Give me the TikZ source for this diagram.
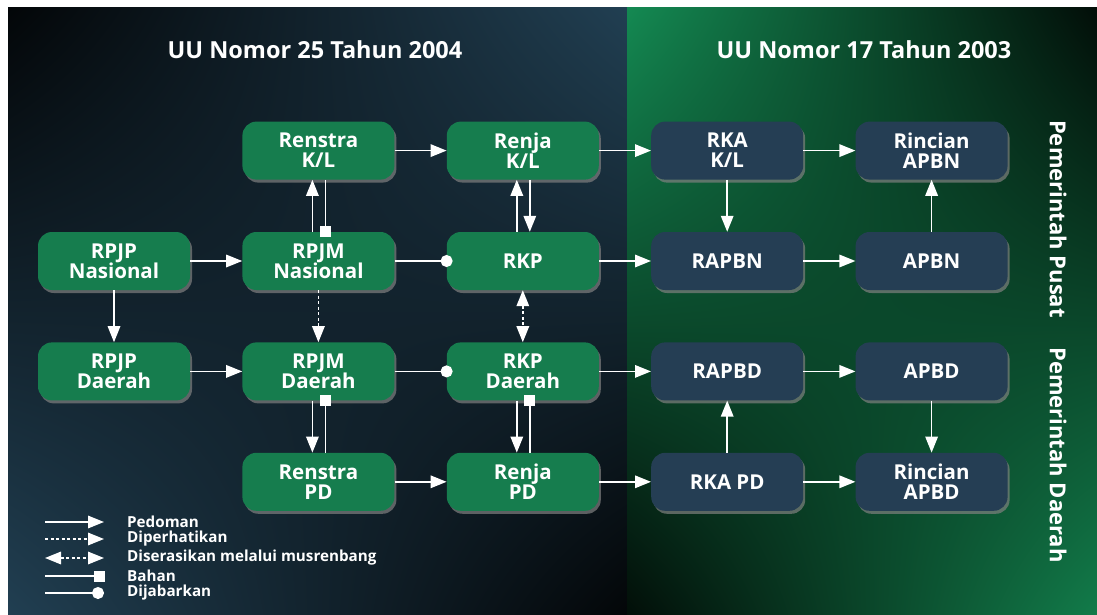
\documentclass[tikz,border=0pt]{standalone}
\usepackage{fontspec}
\setmainfont{Open Sans}
\usepackage{xcolor}
\usepackage{tikz}
\usetikzlibrary{positioning}
\usetikzlibrary{shadows,shadings,arrows.meta}

\definecolor{boxgreen}{RGB}{22,125,78}
\definecolor{boxblue}{RGB}{37,62,84}
\definecolor{bgblue}{RGB}{33,63,82}
\definecolor{bgdark}{RGB}{3,6,8}
\definecolor{bggreen}{RGB}{20,137,82}
\definecolor{bggreendark}{RGB}{2,14,8}

\tikzset{
	plan/.style={rounded corners=14pt,minimum width=152pt,minimum height=58pt,
		text=white,align=center,font=\bfseries\fontsize{20.5}{20}\selectfont,
		drop shadow={shadow xshift=2pt,shadow yshift=-3pt,opacity=0.7}},
	rencana/.style={plan,fill=boxgreen},
	anggaran/.style={plan,fill=boxblue},
	pedoman/.style={white,line width=1.6pt,-{Triangle[length=16pt,width=12.5pt]}},
	diperhatikan/.style={pedoman,dash pattern=on 3pt off 2.5pt},
	diserasikan/.style={diperhatikan,{Triangle[length=16pt,width=12.5pt]}-{Triangle[length=16pt,width=12.5pt]}},
	bahan/.style={white,line width=1.6pt,-{Square[length=11pt,width=11pt]},shorten >=-5.5pt},
	dijabarkan/.style={white,line width=1.6pt,-{Circle[length=12pt]},shorten >=-6pt},
	legenda/.style={anchor=west,inner sep=0pt,text=white,font=\bfseries\fontsize{15.2}{15}\selectfont},
	judul/.style={text=white,font=\bfseries\fontsize{23.5}{23}\selectfont},
	wilayah/.style={text=white,rotate=-90,font=\bfseries\fontsize{22}{22}\selectfont}
}

\begin{document}
\begin{tikzpicture}[x=1pt,y=-1pt,node distance=52pt]
	\useasboundingbox (0,0) rectangle (1097,615);
	
	% background
	\shade[upper left=bgdark,upper right=bgblue,lower left=bgblue,lower right=bgdark] (8,8) rectangle (627,615);
	\shade[upper left=bggreen,upper right=bggreendark,lower left=bggreendark,lower right=bggreen!90!black] (627,8) rectangle (1097,615);
	
	% titles
	\node[judul] (uu25) at (315,50) {UU Nomor 25 Tahun 2004};
	\node[judul] (uu17) at (864,50) {UU Nomor 17 Tahun 2003};
	\node[wilayah] (pusat) at (1058,219) {Pemerintah Pusat};
	\node[wilayah] (daerah) at (1058,455) {Pemerintah Daerah};
	
	% planning boxes
	\node[rencana] (rpjpnas) at (114,261) {RPJP\\Nasional};
	\node[rencana] (rpjpdae) [below=of rpjpnas] {RPJP\\Daerah};
	\node[rencana] (rpjmnas) [right=of rpjpnas] {RPJM\\Nasional};
	\node[rencana] (renstrakl) [above=of rpjmnas] {Renstra\\K/L};
	\node[rencana] (rpjmdae) [below=of rpjmnas] {RPJM\\Daerah};
	\node[rencana] (renstrapd) [below=of rpjmdae] {Renstra\\PD};
	\node[rencana] (rkp) [right=of rpjmnas] {RKP};
	\node[rencana] (renjakl) [above=of rkp] {Renja\\K/L};
	\node[rencana] (rkpdae) [below=of rkp] {RKP\\Daerah};
	\node[rencana] (renjapd) [below=of rkpdae] {Renja\\PD};
	
	% budget boxes
	\node[anggaran] (rkakl) [right=of renjakl] {RKA\\K/L};
	\node[anggaran] (rapbn) [right=of rkp] {RAPBN};
	\node[anggaran] (rapbd) [right=of rkpdae] {RAPBD};
	\node[anggaran] (rkapd) [right=of renjapd] {RKA PD};
	\node[anggaran] (rincianapbn) [right=of rkakl] {Rincian\\APBN};
	\node[anggaran] (apbn) [right=of rapbn] {APBN};
	\node[anggaran] (apbd) [right=of rapbd] {APBD};
	\node[anggaran] (rincianapbd) [right=of rkapd] {Rincian\\APBD};
	
	% connections of the planning side
	\draw[pedoman] (rpjpnas) -- (rpjmnas);
	\draw[pedoman] (rpjpnas) -- (rpjpdae);
	\draw[pedoman] (rpjpdae) -- (rpjmdae);
	\draw[pedoman] ([xshift=-6pt]rpjmnas.north) -- ([xshift=-6pt]renstrakl.south);
	\draw[bahan] ([xshift=7pt]renstrakl.south) -- ([xshift=7pt]rpjmnas.north);
	\draw[pedoman] (renstrakl) -- (renjakl);
	\draw[pedoman] ([xshift=-6pt]rkp.north) -- ([xshift=-6pt]renjakl.south);
	\draw[pedoman] ([xshift=7pt]renjakl.south) -- ([xshift=7pt]rkp.north);
	\draw[dijabarkan] (rpjmnas) -- (rkp);
	\draw[diperhatikan] (rpjmnas) -- (rpjmdae);
	\draw[diserasikan] (rkp) -- (rkpdae);
	\draw[dijabarkan] (rpjmdae) -- (rkpdae);
	\draw[pedoman] ([xshift=-6pt]rpjmdae.south) -- ([xshift=-6pt]renstrapd.north);
	\draw[bahan] ([xshift=7pt]renstrapd.north) -- ([xshift=7pt]rpjmdae.south);
	\draw[pedoman] ([xshift=-6pt]rkpdae.south) -- ([xshift=-6pt]renjapd.north);
	\draw[bahan] ([xshift=7pt]renjapd.north) -- ([xshift=7pt]rkpdae.south);
	\draw[pedoman] (renstrapd) -- (renjapd);
	
	% connections to the budget side
	\draw[pedoman] (renjakl) -- (rkakl);
	\draw[pedoman] (rkp) -- (rapbn);
	\draw[pedoman] (rkpdae) -- (rapbd);
	\draw[pedoman] (renjapd) -- (rkapd);
	
	% connections of the budget side
	\draw[pedoman] (rkakl) -- (rapbn);
	\draw[pedoman] (rkakl) -- (rincianapbn);
	\draw[pedoman] (rapbn) -- (apbn);
	\draw[pedoman] (apbn) -- (rincianapbn);
	\draw[pedoman] (rapbd) -- (apbd);
	\draw[pedoman] (rkapd) -- (rapbd);
	\draw[pedoman] (apbd) -- (rincianapbd);
	\draw[pedoman] (rkapd) -- (rincianapbd);
	
	% legend
	\coordinate (l1a) at (45,522);
	\coordinate (l1b) at (104,522);
	\coordinate (l2a) at (45,539);
	\coordinate (l2b) at (104,539);
	\coordinate (l3a) at (45,558);
	\coordinate (l3b) at (104,558);
	\coordinate (l4a) at (45,576);
	\coordinate (l4b) at (99,576);
	\coordinate (l5a) at (45,593);
	\coordinate (l5b) at (98,593);
	\draw[pedoman] (l1a) -- (l1b);
	\draw[diperhatikan] (l2a) -- (l2b);
	\draw[diserasikan] (l3a) -- (l3b);
	\draw[bahan] (l4a) -- (l4b);
	\draw[dijabarkan] (l5a) -- (l5b);
	\node[legenda] (l1) at (127,522) {Pedoman};
	\node[legenda] (l2) at (127,539) {Diperhatikan};
	\node[legenda] (l3) at (127,558) {Diserasikan melalui musrenbang};
	\node[legenda] (l4) at (127,576) {Bahan};
	\node[legenda] (l5) at (127,593) {Dijabarkan};
	
\end{tikzpicture}
\end{document}
